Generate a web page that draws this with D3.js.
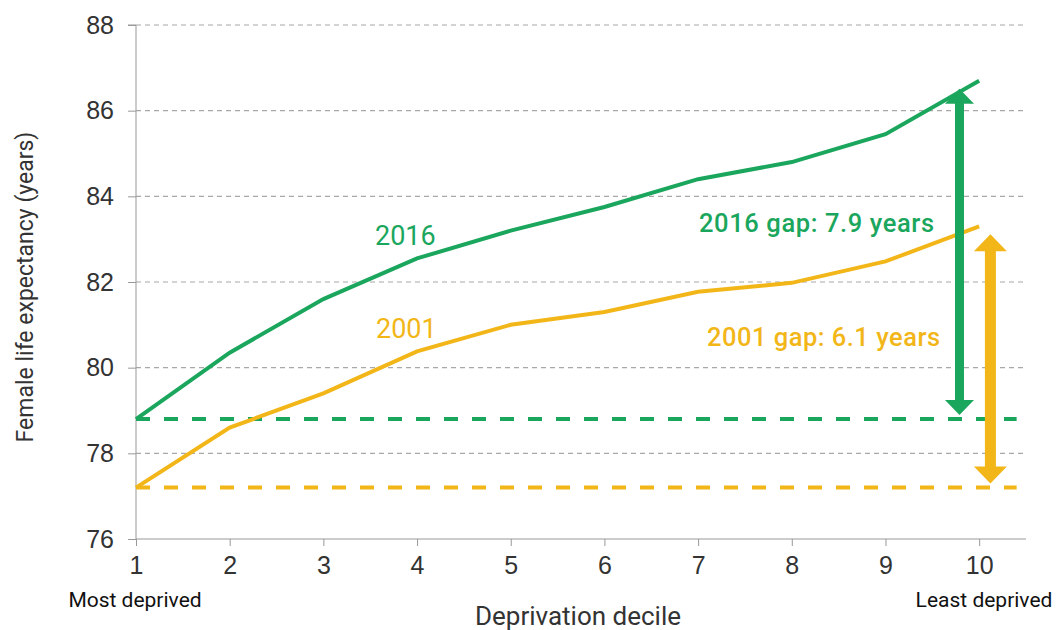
<!DOCTYPE html>
<html>
<head>
<meta charset="utf-8">
<script src="https://cdn.jsdelivr.net/npm/d3@7"></script>
<style>
  body { margin: 0; background: #fff; }
  svg { font-family: Roboto, "Noto Sans", sans-serif; }
</style>
</head>
<body>
<svg id="chart" width="1056" height="630"></svg>
<script>
// deciles and life expectancy values
const deciles = [1, 2, 3, 4, 5, 6, 7, 8, 9, 10];
const le2016 = [78.8, 80.35, 81.6, 82.55, 83.2, 83.75, 84.4, 84.8, 85.45, 86.7];
const le2001 = [77.2, 78.6, 79.4, 80.38, 81.0, 81.3, 81.77, 81.98, 82.48, 83.3];
const yTicks = [76, 78, 80, 82, 84, 86, 88];

const green = "#1ba65d";
const yellow = "#f2b619";

const svg = d3.select("#chart");
const margin = { top: 25, right: 30, bottom: 91, left: 136 };
const width = 1056, height = 630;

const x = d3.scaleLinear()
  .domain([1, 10.5])
  .range([margin.left, width - margin.right]);

const y = d3.scaleLinear()
  .domain([76, 88])
  .range([height - margin.bottom, margin.top]);

// gridlines
svg.append("g")
  .selectAll("line")
  .data(yTicks.filter(d => d > 76))
  .join("line")
  .attr("x1", x(1))
  .attr("x2", x(10.5))
  .attr("y1", d => y(d))
  .attr("y2", d => y(d))
  .attr("stroke", "#a8a8a8")
  .attr("stroke-width", 1.2)
  .attr("stroke-dasharray", "5,4");

// y axis
svg.append("g")
  .attr("transform", `translate(${x(1)},0)`)
  .call(d3.axisLeft(y).tickValues(yTicks).tickSize(8).tickPadding(14))
  .call(g => g.selectAll("line, path").attr("stroke", "#999"))
  .call(g => g.select(".domain").attr("d", `M-8,${y(88)}H0V${y(76)}`))
  .call(g => g.selectAll("text").attr("font-size", 25).attr("fill", "#333"));

// x axis
svg.append("g")
  .attr("transform", `translate(0,${y(76)})`)
  .call(d3.axisBottom(x).tickValues(deciles).tickFormat(d3.format("d")).tickSize(7).tickPadding(10))
  .call(g => g.selectAll("line, path").attr("stroke", "#999"))
  .call(g => g.select(".domain").attr("d", `M${x(1)},0H${x(10.5)}`))
  .call(g => g.selectAll("text").attr("font-size", 25).attr("fill", "#333"));

// reference dashed lines at most deprived values
[[le2016[0], green], [le2001[0], yellow]].forEach(([v, c]) => {
  svg.append("line")
    .attr("x1", x(1))
    .attr("x2", x(10.4))
    .attr("y1", y(v))
    .attr("y2", y(v))
    .attr("stroke", c)
    .attr("stroke-width", 4)
    .attr("stroke-dasharray", "14,14");
});

const line = d3.line()
  .x((d, i) => x(deciles[i]))
  .y(d => y(d));

svg.append("path")
  .datum(le2001)
  .attr("fill", "none")
  .attr("stroke", yellow)
  .attr("stroke-width", 4)
  .attr("d", line);

svg.append("path")
  .datum(le2016)
  .attr("fill", "none")
  .attr("stroke", green)
  .attr("stroke-width", 4)
  .attr("d", line);

// double-headed gap arrows
function arrow(xv, top, bottom, color, shaft, headW, headH) {
  const cx = x(xv);
  const y0 = y(top) + 8, y1 = y(bottom) - 4;
  const g = svg.append("g").attr("fill", color);
  g.append("rect")
    .attr("x", cx - shaft / 2)
    .attr("y", y0 + headH - 1)
    .attr("width", shaft)
    .attr("height", y1 - y0 - 2 * headH + 2);
  g.append("path")
    .attr("d", `M${cx},${y0}L${cx + headW / 2},${y0 + headH}L${cx - headW / 2},${y0 + headH}Z`);
  g.append("path")
    .attr("d", `M${cx},${y1}L${cx + headW / 2},${y1 - headH}L${cx - headW / 2},${y1 - headH}Z`);
}
arrow(9.79, le2016[9], le2016[0], green, 9, 29, 15);
arrow(10.12, le2001[9], le2001[0], yellow, 11, 33, 17);

// annotations
const gap16 = (le2016[9] - le2016[0]).toFixed(1);
const gap01 = (le2001[9] - le2001[0]).toFixed(1);

svg.append("text")
  .attr("x", 375).attr("y", 245)
  .attr("font-size", 27).attr("fill", green)
  .text("2016");
svg.append("text")
  .attr("x", 376).attr("y", 338)
  .attr("font-size", 27).attr("fill", yellow)
  .text("2001");
svg.append("text")
  .attr("x", 699).attr("y", 232)
  .attr("font-size", 25.5).attr("font-weight", 500).attr("fill", green)
  .attr("textLength", 235)
  .text(`2016 gap: ${gap16} years`);
svg.append("text")
  .attr("x", 707).attr("y", 346)
  .attr("font-size", 25.5).attr("font-weight", 500).attr("fill", yellow)
  .attr("textLength", 233)
  .text(`2001 gap: ${gap01} years`);

// axis titles
svg.append("text")
  .attr("x", 135).attr("y", 607)
  .attr("text-anchor", "middle")
  .attr("font-size", 21).attr("fill", "#111")
  .text("Most deprived");
svg.append("text")
  .attr("x", 984).attr("y", 607)
  .attr("text-anchor", "middle")
  .attr("font-size", 21).attr("fill", "#111")
  .text("Least deprived");
svg.append("text")
  .attr("x", 578).attr("y", 625)
  .attr("text-anchor", "middle")
  .attr("font-size", 26).attr("fill", "#333")
  .text("Deprivation decile");
svg.append("text")
  .attr("transform", `translate(33,${(y(76) + y(88)) / 2 + 5}) rotate(-90)`)
  .attr("text-anchor", "middle")
  .attr("font-size", 23).attr("fill", "#333")
  .text("Female life expectancy (years)");
</script>
</body>
</html>
